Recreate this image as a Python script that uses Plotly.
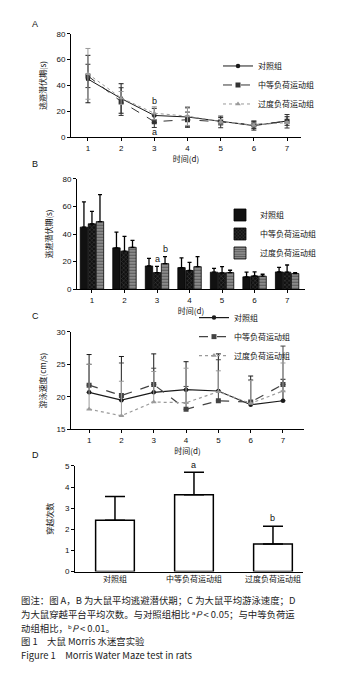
import plotly.graph_objects as go

W, H = 364, 684
def px(x): return x / W
def py(y): return 1 - y / H

# ---------------- data ----------------
days = [1, 2, 3, 4, 5, 6, 7]
groups = ["对照组", "中等负荷运动组", "过度负荷运动组"]

# A/B: escape latency (s)
lat_ctrl = [45.0, 30.0, 16.9, 15.7, 12.4, 9.0, 12.6]
lat_ctrl_sd = [18.3, 11.4, 5.5, 7.1, 2.8, 3.4, 3.3]
lat_mid = [47.4, 27.6, 12.1, 13.6, 11.9, 9.7, 12.4]
lat_mid_sd = [9.0, 10.7, 4.5, 5.9, 4.5, 2.9, 5.2]
lat_over = [49.0, 30.4, 18.6, 16.4, 12.1, 9.5, 11.4]
lat_over_sd = [19.6, 5.0, 5.0, 7.2, 1.7, 1.4, 0.7]

# C: swimming speed (cm/s)
spd_ctrl = [20.7, 19.5, 20.7, 21.1, 20.9, 18.8, 19.4]
spd_ctrl_sd = [5.8, 6.7, 5.9, 4.3, 5.7, 4.4, 3.3]
spd_mid = [21.8, 20.2, 21.9, 18.1, 19.4, 19.2, 21.9]
spd_mid_sd = [3.2, 5.0, 2.5, 3.5, 6.3, 3.4, 5.9]
spd_over = [18.1, 17.1, 19.2, 19.1, 20.8, 19.0, 20.9]
spd_over_sd = [6.9, 5.3, 4.7, 5.3, 3.2, 3.5, 4.3]

# D: platform crossings
cross_mean = [2.43, 3.64, 1.30]
cross_sd = [1.12, 1.06, 0.85]

x_ticks = ["1", "2", "3", "4", "5", "6", "7"]
y_ticks_lat = [0, 20, 40, 60, 80]
y_ticks_spd = [15, 20, 25, 30]
y_ticks_cross = [0, 1, 2, 3, 4, 5]

caption_lines = [
    "图注：图 A，B 为大鼠平均逃避潜伏期；C 为大鼠平均游泳速度；D",
    "为大鼠穿越平台平均次数。与对照组相比 ᵃ<i>P</i> < 0.05；与中等负荷运",
    "动组相比，ᵇ<i>P</i> < 0.01。",
    "图 1　大鼠 Morris 水迷宫实验",
    "Figure 1　Morris Water Maze test in rats",
]

FONT = "Liberation Sans, Arial, Noto Sans CJK SC, sans-serif"
CJK = "Noto Sans CJK SC, DejaVu Sans, sans-serif"
BLACK = "#1a1a1a"
DARK = "#333333"
GREY = "#9a9a9a"

fig = go.Figure()

# ---------------- Panel A ----------------
styles = [
    (lat_ctrl, lat_ctrl_sd, groups[0], BLACK, "solid", "circle", 4.5),
    (lat_mid, lat_mid_sd, groups[1], DARK, "dash", "square", 5),
    (lat_over, lat_over_sd, groups[2], GREY, "dot", "triangle-up", 5),
]
for vals, sd, name, col, dash, sym, ms in styles:
    fig.add_trace(go.Scatter(
        x=days, y=vals, name=name, mode="lines+markers",
        line=dict(color=col, width=1, dash=dash),
        marker=dict(symbol=sym, size=ms, color=col),
        error_y=dict(type="data", array=sd, visible=True, color=col, thickness=1, width=2.5),
        xaxis="x", yaxis="y", legend="legend",
    ))

# ---------------- Panel B ----------------
bar_styles = [
    (lat_ctrl, lat_ctrl_sd, groups[0], dict(color="#111111", line=dict(color="#000", width=0.8))),
    (lat_mid, lat_mid_sd, groups[1], dict(color="#111111", line=dict(color="#000", width=0.8),
                                         pattern=dict(shape="x", fgcolor="#777777", bgcolor="#111111", size=3, solidity=0.3))),
    (lat_over, lat_over_sd, groups[2], dict(color="#666666", line=dict(color="#000", width=0.8),
                                          pattern=dict(shape="-", fgcolor="#2a2a2a", bgcolor="#8a8a8a", size=3, solidity=0.35))),
]
for vals, sd, name, mk in bar_styles:
    fig.add_trace(go.Bar(
        x=days, y=vals, name=name, marker=mk,
        error_y=dict(type="data", array=sd, arrayminus=[0] * len(sd), symmetric=False,
                     visible=True, color="#000", thickness=1.3, width=2),
        xaxis="x2", yaxis="y2", legend="legend2",
    ))

# ---------------- Panel C ----------------
spd_styles = [
    (spd_ctrl, spd_ctrl_sd, groups[0], BLACK, "solid", "circle", 4.5),
    (spd_mid, spd_mid_sd, groups[1], "#444444", "dash", "square", 5),
    (spd_over, spd_over_sd, groups[2], GREY, "dot", "triangle-up", 5),
]
for vals, sd, name, col, dash, sym, ms in spd_styles:
    fig.add_trace(go.Scatter(
        x=days, y=vals, name=name, mode="lines+markers",
        line=dict(color=col, width=1.2, dash=dash),
        marker=dict(symbol=sym, size=ms, color=col),
        error_y=dict(type="data", array=sd, arrayminus=[0] * len(sd), symmetric=False,
                     visible=True, color=col, thickness=1, width=2.5),
        xaxis="x3", yaxis="y3", legend="legend3",
    ))

# ---------------- Panel D ----------------
fig.add_trace(go.Bar(
    x=[0, 1, 2], y=cross_mean, width=0.49, showlegend=False,
    marker=dict(color="white", line=dict(color="#000", width=1.5)),
    error_y=dict(type="data", array=cross_sd, arrayminus=[0, 0, 0], symmetric=False,
                 visible=True, color="#000", thickness=1.5, width=10),
    xaxis="x4", yaxis="y4",
))

# ---------------- axes ----------------
axis_common = dict(showline=True, linecolor="#000", linewidth=1, ticks="outside", ticklen=3,
                   tickwidth=1, tickcolor="#000", showgrid=False, zeroline=False,
                   tickfont=dict(family=FONT, size=8, color="#111"))

def xax(x0, x1, yref, rng, **kw):
    d = dict(axis_common)
    d.update(domain=[px(x0), px(x1)], anchor=yref, range=rng, fixedrange=True)
    d.update(kw)
    return d

def yax(y_bottom, y_top, xref, rng, **kw):
    d = dict(axis_common)
    d.update(domain=[py(y_bottom), py(y_top)], anchor=xref, range=rng, fixedrange=True)
    d.update(kw)
    return d

title_font = dict(family=CJK, size=8, color="#111")
leg_font = dict(family=CJK, size=8, color="#111")

layout = dict(
    width=W, height=H, margin=dict(l=0, r=0, t=0, b=0),
    paper_bgcolor="white", plot_bgcolor="white", showlegend=True,
    barmode="group", bargap=0.26, bargroupgap=0.08,
    font=dict(family=FONT, size=8, color="#111"),
    xaxis=xax(63, 293, "y", [0.49, 7.42], tickvals=days, ticktext=x_ticks,
              title=dict(text="时间(d)", font=title_font, standoff=0)),
    yaxis=yax(127, 22, "x", [0, 80], tickvals=y_ticks_lat,
              title=dict(text="逃避潜伏期(s)", font=title_font, standoff=8)),
    xaxis2=xax(69, 297, "y2", [0.54, 7.55], tickvals=days, ticktext=x_ticks,
               title=dict(text="时间(d)", font=title_font, standoff=0)),
    yaxis2=yax(281, 169, "x2", [0, 80], tickvals=y_ticks_lat,
               title=dict(text="逃避潜伏期(s)", font=title_font, standoff=8)),
    xaxis3=xax(63, 296, "y3", [0.44, 7.65], tickvals=days, ticktext=x_ticks,
               title=dict(text="时间(d)", font=title_font, standoff=0)),
    yaxis3=yax(423, 324, "x3", [15, 30], tickvals=y_ticks_spd,
               title=dict(text="游泳速度(cm/s)", font=title_font, standoff=8)),
    xaxis4=xax(67, 295, "y4", [-0.506, 2.38], tickvals=[0, 1, 2], ticktext=groups,
               ticks="", tickfont=dict(family=CJK, size=8, color="#111")),
    yaxis4=yax(567, 460, "x4", [0, 5], tickvals=y_ticks_cross,
               title=dict(text="穿越次数", font=title_font, standoff=10)),
    legend=dict(x=px(210), y=py(40), xanchor="left", yanchor="top", bgcolor="rgba(0,0,0,0)",
                font=leg_font, itemwidth=30, tracegroupgap=0),
    legend2=dict(x=px(212), y=py(191), xanchor="left", yanchor="top", bgcolor="rgba(0,0,0,0)",
                 font=leg_font, itemwidth=30, tracegroupgap=0),
    legend3=dict(x=px(186), y=py(295), xanchor="left", yanchor="top", bgcolor="rgba(0,0,0,0)",
                 font=leg_font, itemwidth=30, tracegroupgap=0),
)
fig.update_layout(**layout)

ann = []
# panel letters
for letter, y in [("A", 12), ("B", 154), ("C", 308), ("D", 449)]:
    ann.append(dict(text=letter, x=px(27), y=py(y), xref="paper", yref="paper", showarrow=False,
                    font=dict(family=FONT, size=9, color="#111"), xanchor="center", yanchor="middle"))
# significance letters
sig = [("b", 3, 28, "x", "y", "middle"), ("a", 3, 4, "x", "y", "middle"),
       ("a", 3, 22, "x2", "y2", "middle"), ("b", 3.25, 29.5, "x2", "y2", "middle"),
       ("a", 1, 4.72, "x4", "y4", "bottom"), ("b", 2, 2.55, "x4", "y4", "middle")]
for t, xv, yv, xr, yr, ya in sig:
    ann.append(dict(text=t, x=xv, y=yv, xref=xr, yref=yr, showarrow=False,
                    font=dict(family=FONT, size=9, color="#111"), xanchor="center", yanchor=ya))
# caption lines
for i, t in enumerate(caption_lines):
    ann.append(dict(text=t, x=px(11), y=py(596 + 13.9 * i), xref="paper", yref="paper",
                    showarrow=False, align="left", xanchor="left", yanchor="middle",
                    font=dict(family=CJK, size=9.4, color="#222")))
fig.update_layout(annotations=ann)

fig.write_html("out.html")
